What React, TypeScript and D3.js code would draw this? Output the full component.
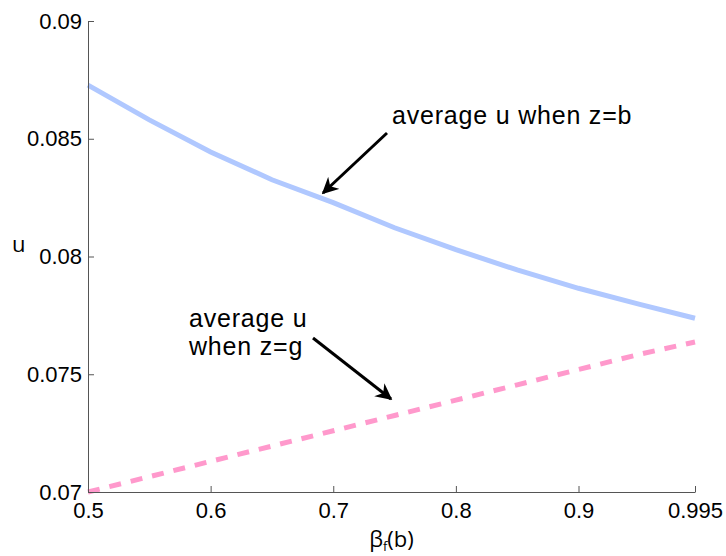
import React, { useRef, useEffect } from "react";
import * as d3 from "d3";

// beta_f(b) grid
const beta = [0.5, 0.55, 0.6, 0.65, 0.7, 0.75, 0.8, 0.85, 0.9, 0.95, 0.995];
// average u when z=b
const uBad = [0.08728, 0.0858, 0.08444, 0.08326, 0.08229, 0.08122, 0.08029, 0.07943, 0.07865, 0.07797, 0.07738];
// average u when z=g
const uGood = [0.0700, 0.07065, 0.0713, 0.07195, 0.0726, 0.07325, 0.0739, 0.07455, 0.0752, 0.07585, 0.07637];

const xTicks = [0.5, 0.6, 0.7, 0.8, 0.9, 0.995];
const yTicks = [0.07, 0.075, 0.08, 0.085, 0.09];

const App = () => {
	const svgRef = useRef<SVGSVGElement>(null);
	const W = 726;
	const H = 556;
	const left = 88, right = 695, top = 21, bottom = 492;

	useEffect(() => {
		const svg = d3.select(svgRef.current);
		svg.selectChildren().remove();

		const x = d3.scaleLinear().domain([0.5, 0.995]).range([left, right]);
		const y = d3.scaleLinear().domain([0.07, 0.09]).range([bottom, top]);

		const font = "'Liberation Sans', Arial, Helvetica, sans-serif";
		const axisColor = "#555";

		// lines
		const line = d3.line<number>()
			.x((d, i) => x(beta[i]))
			.y(d => y(d));

		svg.append("path")
			.datum(uBad)
			.attr("fill", "none")
			.attr("stroke", "#b0c8ff")
			.attr("stroke-width", 5)
			.attr("d", line);

		svg.append("path")
			.datum(uGood)
			.attr("fill", "none")
			.attr("stroke", "#ff99cc")
			.attr("stroke-width", 5)
			.attr("stroke-dasharray", "12,10")
			.attr("d", line);

		// axes (MATLAB style, ticks inside)
		const xAxis = d3.axisBottom(x).tickValues(xTicks).tickSizeInner(-6).tickSizeOuter(0)
			.tickFormat(d => String(d));
		const yAxis = d3.axisLeft(y).tickValues(yTicks).tickSizeInner(-6).tickSizeOuter(0)
			.tickFormat(d => String(+(+d).toFixed(3)));

		const gx = svg.append("g").attr("transform", `translate(0, ${bottom})`).call(xAxis);
		const gy = svg.append("g").attr("transform", `translate(${left}, 0)`).call(yAxis);

		[gx, gy].forEach(g => {
			g.select(".domain").attr("stroke", axisColor);
			g.selectAll(".tick line").attr("stroke", axisColor);
			g.selectAll(".tick text")
				.attr("fill", "#000")
				.style("font-family", font)
				.style("font-size", "22px");
		});
		gx.selectAll(".tick text").attr("y", 10).attr("dy", "0.71em");
		gy.selectAll(".tick text").attr("x", -6);

		// axis labels
		svg.append("text")
			.attr("x", 12)
			.attr("y", 252)
			.style("font-family", "'Open Sans', sans-serif")
			.style("font-size", "22px")
			.text("u");

		const xl = svg.append("text")
			.attr("x", (left + right) / 2)
			.attr("y", 547)
			.attr("text-anchor", "middle")
			.style("font-family", "'Open Sans', sans-serif")
			.style("font-size", "22px");
		xl.append("tspan").text("β");
		xl.append("tspan").attr("dy", 4).style("font-size", "13px").text("f");
		xl.append("tspan").attr("dy", -4).text("(b)");

		// annotations
		const defs = svg.append("defs");
		defs.append("marker")
			.attr("id", "arrowhead")
			.attr("viewBox", "0 0 10 10")
			.attr("refX", 9)
			.attr("refY", 5)
			.attr("markerWidth", 5.5)
			.attr("markerHeight", 5.5)
			.attr("markerUnits", "strokeWidth")
			.attr("orient", "auto")
			.append("path")
			.attr("d", "M0,0 L10,5 L0,10 L3,5 Z")
			.attr("fill", "#000");

		svg.append("line")
			.attr("x1", 387).attr("y1", 133)
			.attr("x2", 323).attr("y2", 193)
			.attr("stroke", "#000")
			.attr("stroke-width", 3)
			.attr("marker-end", "url(#arrowhead)");

		svg.append("line")
			.attr("x1", 313).attr("y1", 338)
			.attr("x2", 391).attr("y2", 399)
			.attr("stroke", "#000")
			.attr("stroke-width", 3)
			.attr("marker-end", "url(#arrowhead)");

		const annot = (tx: number, ty: number, s: string) =>
			svg.append("text")
				.attr("x", tx)
				.attr("y", ty)
				.style("font-family", font)
				.style("font-size", "25px")
				.style("letter-spacing", "0.8px")
				.text(s);

		annot(392, 124, "average u when z=b");
		annot(189, 327, "average u");
		annot(189, 355, "when z=g");
	});

	return (
		<div>
			<svg ref={svgRef} width={W} height={H}
				style={{ position: "absolute", left: 0, top: 0, background: "#fff" }}>
			</svg>
		</div>
	);
};

export default App;
